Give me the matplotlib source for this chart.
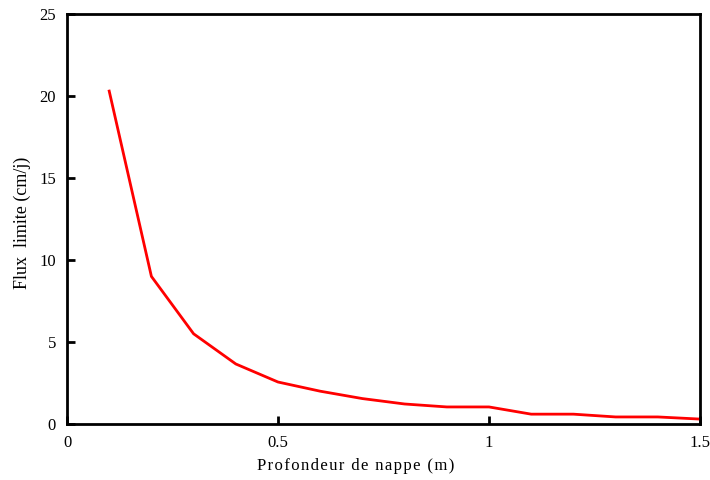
import matplotlib
matplotlib.use("Agg")
import matplotlib.pyplot as plt

depth = [0.1, 0.2, 0.3, 0.4, 0.5, 0.6, 0.7, 0.8, 0.9, 1.0, 1.1, 1.2, 1.3, 1.4, 1.5]
flux = [20.3, 9.0, 5.5, 3.66, 2.56, 2.0, 1.55, 1.22, 1.04, 1.04, 0.6, 0.6, 0.43, 0.43, 0.3]
xticks = [0, 0.5, 1, 1.5]
xticklabels = ["0", "0.5", "1", "1.5"]
yticks = [0, 5, 10, 15, 20, 25]

plt.rcParams['font.family'] = ['Liberation Serif', 'DejaVu Serif']

fig = plt.figure(figsize=(7.1, 4.8), dpi=100)
ax = fig.add_axes([67/710, 56/480, 633/710, 410/480])
ax.plot(depth, flux, color='#ff0000', lw=2)
ax.set_xlim(0, 1.5)
ax.set_ylim(0, 25)
ax.set_xticks(xticks)
ax.set_xticklabels(xticklabels)
ax.set_yticks(yticks)
for s in ax.spines.values():
    s.set_linewidth(2)
ax.tick_params(direction='in', length=6, width=2, labelsize=12, pad=8)
label = "Profondeur de nappe (m)"
spaced = "\u200a".join(label)
ax.set_xlabel(spaced, fontsize=12, labelpad=6)
ax.xaxis.set_label_coords((356 - 67) / 633, -0.083)
ax.set_ylabel("Flux  limite (cm/j)", fontsize=13)
ax.yaxis.set_label_coords(-0.057, (480 - 223 - 56) / 410)
fig.savefig("out.png", dpi=100)
